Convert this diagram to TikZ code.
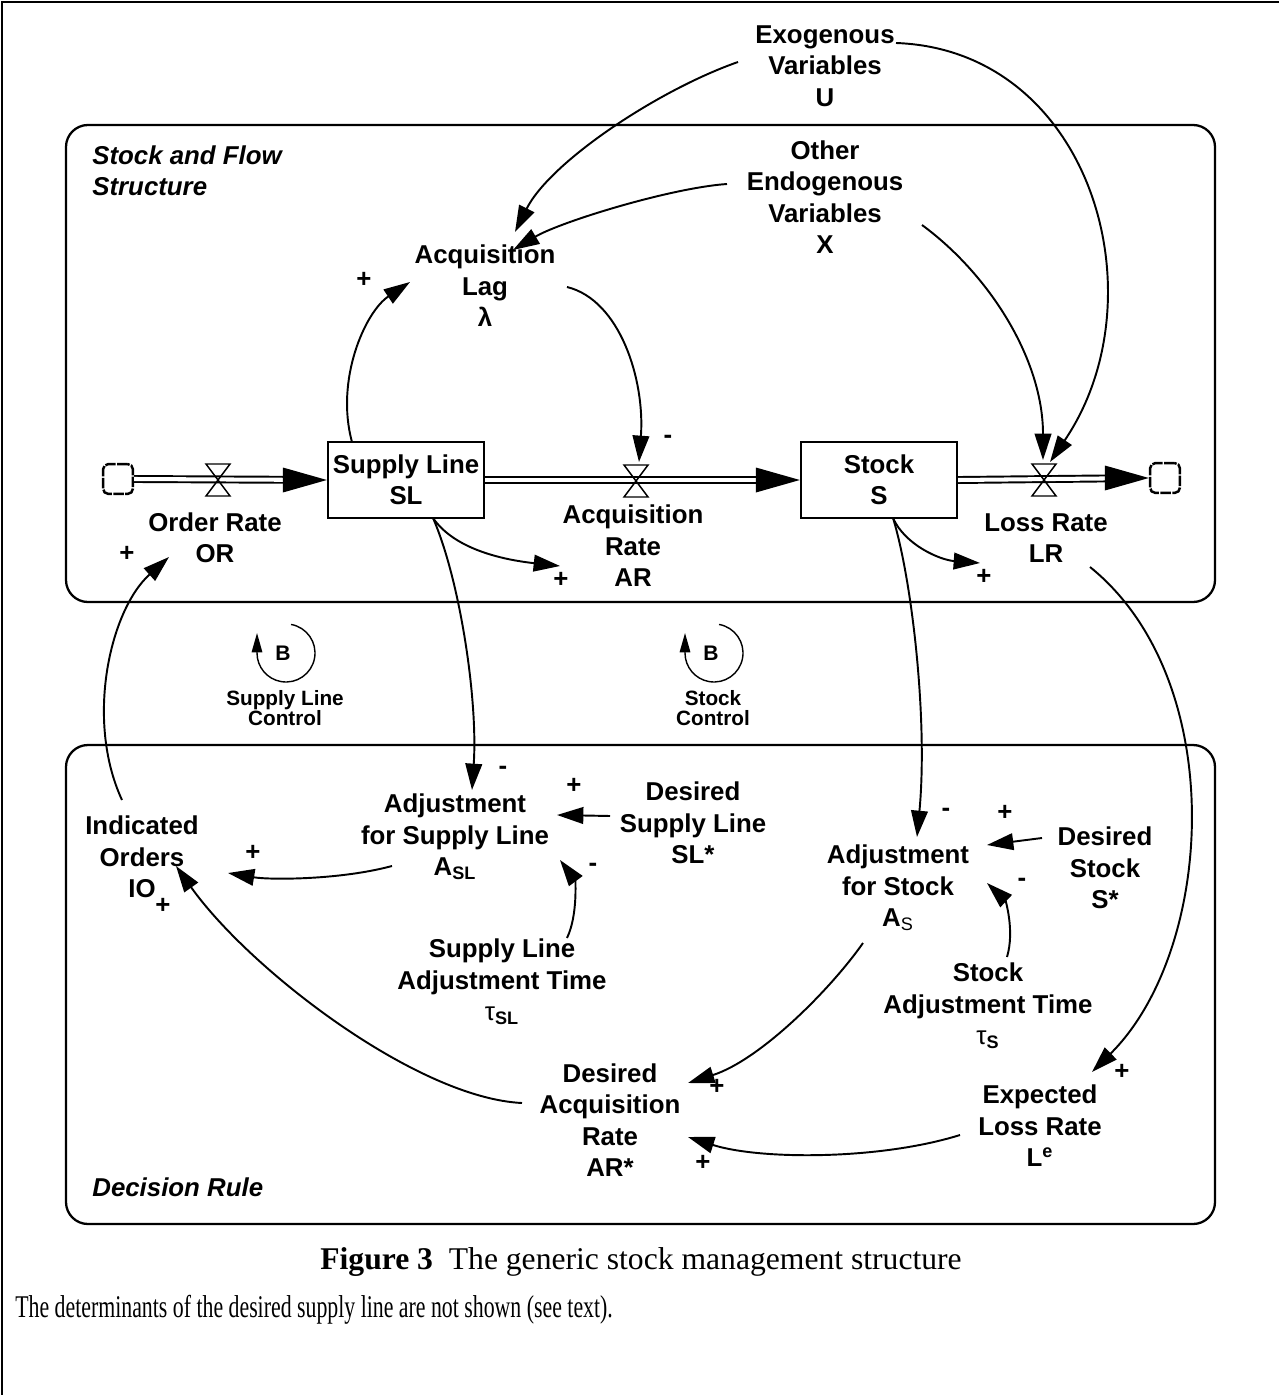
\documentclass[tikz,border=0pt]{standalone}
\usepackage{fontspec}
\setmainfont{Liberation Sans}
\newfontfamily\capserif{Liberation Serif}
\newfontfamily\noteserif[FakeStretch=0.69]{Liberation Serif}
\usetikzlibrary{arrows.meta}
\begin{document}
\begin{tikzpicture}[x=0.02cm, y=-0.02cm,
  lbl/.style={align=center, inner sep=0pt, font=\fontsize{14.7}{17.9}\selectfont\bfseries},
  sgn/.style={inner sep=0pt, font=\fontsize{14.7}{17.9}\selectfont\bfseries},
  panellbl/.style={align=left, inner sep=0pt, anchor=west, font=\fontsize{14.7}{17.9}\selectfont\bfseries\itshape},
  stockbox/.style={lbl, draw, line width=1.1pt, minimum width=89pt, minimum height=43pt},
  cloudnode/.style={draw, line width=1.4pt, rounded corners=3pt, minimum width=17pt, minimum height=17pt, inner sep=0pt, dash pattern=on 6pt off 0.8pt},
  pipe/.style={draw, line width=1.1pt, double, double distance=2.3pt},
  valve/.style={line width=0.85pt},
  link/.style={line width=1.1pt, -{Triangle[length=15pt,width=9.5pt]}},
  panel/.style={line width=1.3pt, rounded corners=12.5pt},
  loopB/.style={inner sep=0pt, font=\fontsize{12}{14}\selectfont\bfseries},
  looplbl/.style={align=center, inner sep=0pt, font=\fontsize{11.8}{11.4}\selectfont\bfseries},
  loopline/.style={line width=0.8pt, -{Triangle[length=11pt,width=6pt]}}
]
\useasboundingbox (0,0) rectangle (1279,1395);
% outer frame
\draw[line width=1.7pt] (1279,2) -- (2,2) -- (2,1395);
% panels
\draw[panel] (66,125) rectangle (1215,602);
\draw[panel] (66,745) rectangle (1215,1224);
\node[panellbl] (pTop) at (92,171) {Stock and Flow\\Structure};
\node[panellbl] (pBot) at (92,1187) {Decision Rule};

% stocks and clouds
\node[stockbox] (sl) at (406,480) {Supply Line\\SL};
\node[stockbox] (st) at (879,480) {Stock\\S};
\node[cloudnode] (cL) at (118,479) {};
\node[cloudnode] (cR) at (1165,478) {};
\coordinate (vOR) at (218,480);
\coordinate (vAR) at (636,481);
\coordinate (vLR) at (1044,480);

% pipes
\draw[pipe, shorten >=22pt] (cL.east) -- (sl.west);
\fill (sl.west) -- ++(-44,-12.5) -- ++(0,25) -- cycle;
\draw[pipe, shorten >=22pt] (sl.east) -- (st.west);
\fill (st.west) -- ++(-44,-12.5) -- ++(0,25) -- cycle;
\draw[pipe, shorten >=22pt] (st.east) -- (cR.west);
\fill (cR.west) -- ++(-44,-12.5) -- ++(0,25) -- cycle;
% valves
\foreach \v in {vOR,vAR,vLR}{
  \draw[valve] (\v) -- ++(-12,-16) -- ++(24,0) -- cycle;
  \draw[valve] (\v) -- ++(-12,16) -- ++(24,0) -- cycle;
}

% variable labels
\node[lbl] (exo) at (825,66) {Exogenous\\Variables\\U};
\node[lbl] (endo) at (825,197) {Other\\Endogenous\\Variables\\X};
\node[lbl] (lag) at (485,286) {Acquisition\\Lag\\λ};
\node[lbl] (lblOR) at (215,538) {Order Rate\\OR};
\node[lbl] (lblAR) at (633,546) {Acquisition\\Rate\\AR};
\node[lbl] (lblLR) at (1046,538) {Loss Rate\\LR};
\node[lbl] (adjSL) at (455,837) {Adjustment\\for Supply Line\\A\textsubscript{SL}};
\node[lbl] (dSL) at (693,823) {Desired\\Supply Line\\SL*};
\node[lbl] (tSL) at (502,982) {Supply Line\\Adjustment Time\\{\mdseries τ}\textsubscript{SL}};
\node[lbl] (io) at (142,857) {Indicated\\Orders\\IO};
\node[lbl] (adjS) at (898,888) {Adjustment\\for Stock\\A\textsubscript{\mdseries S}};
\node[lbl] (dS) at (1105,868) {Desired\\Stock\\S*};
\node[lbl] (tS) at (988,1006) {Stock\\Adjustment Time\\{\mdseries τ}\textsubscript{S}};
\node[lbl] (dAR) at (610,1120) {Desired\\Acquisition\\Rate\\AR*};
\node[lbl] (eLR) at (1040,1126) {Expected\\Loss Rate\\L\textsuperscript{e}};

% polarity signs
\node[sgn] (s1) at (364,280) {+};
\node[sgn] (s2) at (668,439) {-};
\node[sgn] (s3) at (561,580) {+};
\node[sgn] (s4) at (984,577) {+};
\node[sgn] (s5) at (127,554) {+};
\node[sgn] (s6) at (503,770) {-};
\node[sgn] (s7) at (574,786) {+};
\node[sgn] (s8) at (593,867) {-};
\node[sgn] (s9) at (253,853) {+};
\node[sgn] (s10) at (163,906) {+};
\node[sgn] (s11) at (946,812) {-};
\node[sgn] (s12) at (1005,813) {+};
\node[sgn] (s13) at (1022,882) {-};
\node[sgn] (s14) at (1122,1072) {+};
\node[sgn] (s15) at (717,1087) {+};
\node[sgn] (s16) at (703,1163) {+};

% links
\draw[link] ([shift={(-87,-4)}]exo.center) .. controls +(-80,28) and +(35,-70) .. ([shift={(30,-54)}]lag.center);
\draw[link] ([shift={(-98,-13)}]endo.center) .. controls +(-57,4) and +(47,-28) .. ([shift={(28,-36)}]lag.center);
\draw[link] ([shift={(71,-23)}]exo.center) .. controls +(195,7) and +(112,-165) .. ([shift={(6,-18)}]vLR);
\draw[link] ([shift={(97,28)}]endo.center) .. controls +(68,50) and +(0,-100) .. ([shift={(-1,-20)}]vLR);
\draw[link] ([shift={(82,1)}]lag.center) .. controls +(53,13) and +(6,-82) .. ([shift={(3,-19)}]vAR);
\draw[link] ([shift={(-54,-38)}]sl.center) .. controls +(-17,-62) and +(-45,30) .. ([shift={(-75,-4)}]lag.center);
\draw[link] ([shift={(27,38)}]sl.center) .. controls +(22,32) and +(-55,-6) .. ([shift={(-73,20)}]lblAR.center);
\draw[link] ([shift={(27,38)}]sl.center) .. controls +(27,62) and +(6,-90) .. ([shift={(17,-47)}]adjSL.center);
\draw[link] ([shift={(14,38)}]st.center) .. controls +(19,62) and +(11,-117) .. ([shift={(19,-51)}]adjS.center);
\draw[link] ([shift={(14,38)}]st.center) .. controls +(12,27) and +(-40,-3) .. ([shift={(-66,25)}]lblLR.center);
\draw[link] ([shift={(44,29)}]lblLR.center) .. controls +(140,113) and +(123,-122) .. ([shift={(52,-54)}]eLR.center);
\draw[link] ([shift={(-83,-7)}]dSL.center) -- ([shift={(102,-22)}]adjSL.center);
\draw[link] ([shift={(65,-44)}]tSL.center) .. controls +(11,-23) and +(15,20) .. ([shift={(105,23)}]adjSL.center);
\draw[link] ([shift={(-63,29)}]adjSL.center) .. controls +(-52,14) and +(42,7) .. ([shift={(86,16)}]io.center);
\draw[link] ([shift={(-63,-30)}]dS.center) -- ([shift={(89,-43)}]adjS.center);
\draw[link] ([shift={(19,-49)}]tS.center) .. controls +(8,-27) and +(18,17) .. ([shift={(89,-5)}]adjS.center);
\draw[link] ([shift={(-35,55)}]adjS.center) .. controls +(-33,47) and +(72,-23) .. ([shift={(78,-37)}]dAR.center);
\draw[link] ([shift={(-80,9)}]eLR.center) .. controls +(-80,25) and +(72,23) .. ([shift={(78,17)}]dAR.center);
\draw[link] ([shift={(-88,-17)}]dAR.center) .. controls +(-105,-5) and +(74,104) .. ([shift={(34,9)}]io.center);
\draw[link] ([shift={(-20,-57)}]io.center) .. controls +(-37,-80) and +(-59,53) .. ([shift={(-46,19)}]lblOR.center);

% loops
\node[loopB] (B1) at (283,653) {B};
\node[looplbl] (L1) at (285,708) {Supply Line\\Control};
\node[loopB] (B2) at (711,653) {B};
\node[looplbl] (L2) at (713,708) {Stock\\Control};
\draw[loopline] ([shift={(8.04,-28.56)}]B1.center) arc[start angle=-80, end angle=180, radius=29] -- ++(0,-20);
\draw[loopline] ([shift={(8.04,-28.56)}]B2.center) arc[start angle=-80, end angle=180, radius=29] -- ++(0,-20);

% caption
\node[inner sep=0pt, font=\capserif\fontsize{18}{20}\selectfont] (cap) at (641,1262) {\textbf{Figure 3}\hspace{0.5em}The generic stock management structure};
\node[inner sep=0pt, anchor=west, font=\noteserif\fontsize{18}{20}\selectfont] (note) at (15,1310) {The determinants of the desired supply line are not shown (see text).};
\end{tikzpicture}
\end{document}
